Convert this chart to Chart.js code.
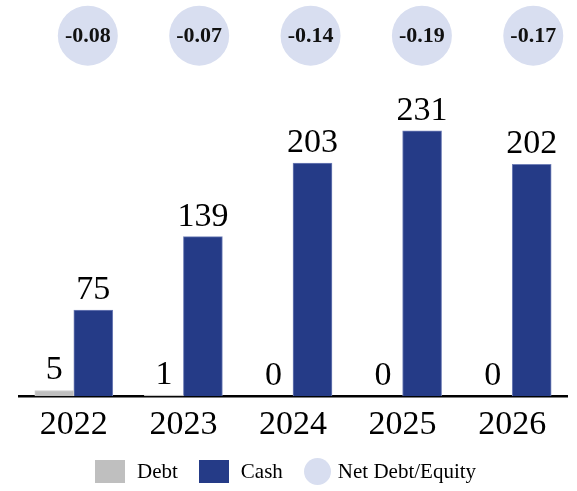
<!DOCTYPE html>
<html>
<head>
<meta charset="utf-8">
<script src="https://cdn.jsdelivr.net/npm/chart.js@4.4.1/dist/chart.umd.min.js"></script>
<style>
    html, body { margin: 0; padding: 0; background: #fff; }
    #wrap { position: relative; width: 577px; height: 491px; }
    #legend {
        position: absolute; left: 95px; top: 458px;
        display: flex; align-items: center;
        font: 21px "Liberation Serif", serif; color: #000;
    }
    #legend .box { width: 30px; height: 23px; margin-right: 12px; }
    #legend .dot { width: 27px; height: 27px; border-radius: 50%; margin-right: 7px; }
    #legend .txt { margin-right: 21px; }
</style>
</head>
<body>
<div id="wrap">
    <canvas id="chart" width="577" height="491"></canvas>
    <div id="legend"></div>
</div>
<script>
// data
const years = ['2022', '2023', '2024', '2025', '2026'];
const debt = [5, 1, 0, 0, 0];
const cash = [75, 139, 203, 231, 202];
const netDebtEquity = [-0.08, -0.07, -0.14, -0.19, -0.17];

const DEBT_COLOR = '#BFBFBF';
const CASH_COLOR = '#253B87';
const NET_COLOR = '#D8DEF0';
const FONT = '"Liberation Serif", serif';
const CIRCLE_ROW = 0.91; // position of the ratio bubbles on their hidden axis

// draws the numbers above bars and inside the bubbles
const valueLabels = {
    id: 'valueLabels',
    afterDatasetsDraw(chart) {
        const ctx = chart.ctx;
        ctx.save();
        ctx.textAlign = 'center';
        chart.data.datasets.forEach((ds, i) => {
            const meta = chart.getDatasetMeta(i);
            if (ds.type === 'scatter') {
                ctx.font = 'bold 22px ' + FONT;
                ctx.textBaseline = 'middle';
                ctx.fillStyle = '#111';
                meta.data.forEach((pt, j) => {
                    ctx.fillText(netDebtEquity[j].toFixed(2), pt.x, pt.y + 1);
                });
            } else {
                ctx.font = '34px ' + FONT;
                ctx.textBaseline = 'alphabetic';
                ctx.fillStyle = '#000';
                meta.data.forEach((bar, j) => {
                    ctx.fillText(String(ds.data[j]), bar.x, bar.y - 11);
                });
            }
        });
        ctx.restore();
    }
};

new Chart(document.getElementById('chart'), {
    type: 'bar',
    data: {
        labels: years,
        datasets: [{
            type: 'scatter',
            label: 'Net Debt/Equity',
            data: netDebtEquity.map((v, i) => ({ x: i, y: CIRCLE_ROW })),
            xAxisID: 'xNet',
            yAxisID: 'yNet',
            pointRadius: 30,
            pointHoverRadius: 30,
            pointBackgroundColor: NET_COLOR,
            pointBorderWidth: 0,
            clip: false
        }, {
            label: 'Debt',
            data: debt,
            backgroundColor: DEBT_COLOR,
            borderColor: '#D0D0D0',
            borderWidth: 1,
            barThickness: 39
        }, {
            label: 'Cash',
            data: cash,
            backgroundColor: CASH_COLOR,
            borderColor: '#7281B8',
            borderWidth: 1,
            barThickness: 39
        }]
    },
    options: {
        responsive: false,
        animation: false,
        layout: { autoPadding: false, padding: { left: 19, right: 10, top: 0, bottom: 38 } },
        plugins: {
            legend: { display: false },
            tooltip: { enabled: false }
        },
        scales: {
            x: {
                grid: { display: false, drawTicks: false },
                border: { display: true, color: '#000', width: 2.5 },
                ticks: { color: '#000', padding: 8, font: { family: FONT, size: 34 } }
            },
            y: { display: false, min: 0, max: 345 },
            xNet: { type: 'linear', display: false, offset: false, min: -0.618, max: 4.303 },
            yNet: { type: 'linear', display: false, offset: false, min: 0, max: 1 }
        }
    },
    plugins: [valueLabels]
});

// legend
const legend = document.getElementById('legend');
[['Debt', DEBT_COLOR, 'box'], ['Cash', CASH_COLOR, 'box'], ['Net Debt/Equity', NET_COLOR, 'dot']].forEach(([name, color, cls]) => {
    const mark = document.createElement('span');
    mark.className = cls;
    mark.style.background = color;
    const txt = document.createElement('span');
    txt.className = 'txt';
    txt.textContent = name;
    legend.appendChild(mark);
    legend.appendChild(txt);
});
</script>
</body>
</html>
